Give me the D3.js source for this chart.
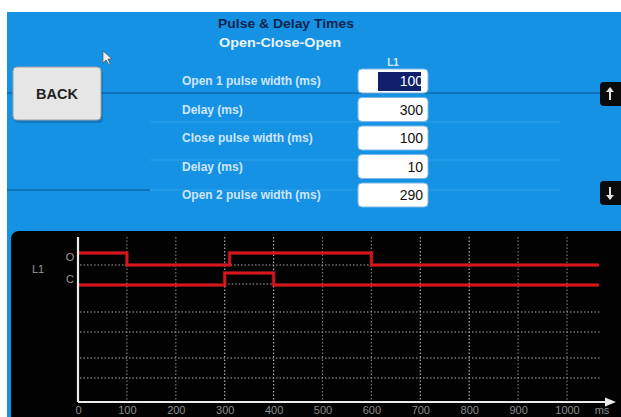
<!DOCTYPE html>
<html>
<head>
<meta charset="utf-8">
<script src="https://cdn.jsdelivr.net/npm/d3@7"></script>
<style>
  body { margin: 0; background: #fff; }
  svg { display: block; font-family: "Liberation Sans", Arial, sans-serif; }
</style>
</head>
<body>
<div id="vis"></div>
<script>
// settings rows shown in the blue panel
var rowLabels = ["Open 1 pulse width (ms)", "Delay (ms)", "Close pulse width (ms)", "Delay (ms)", "Open 2 pulse width (ms)"];
var rowValues = [100, 300, 100, 10, 290];

// time axis
var tickValues = [0, 100, 200, 300, 400, 500, 600, 700, 800, 900, 1000];

// trace edges: [time ms, state]
var openTrace = [[0, 1], [100, 0], [310, 1], [600, 0], [1065, 0]];
var closeTrace = [[0, 0], [300, 1], [400, 0], [1065, 0]];

// dotted baselines (unused channels)
var gridRows = ["g1", "g2", "g3", "g4"];

var width = 621, height = 417;

var svg = d3.select("#vis").append("svg")
    .attr("width", width)
    .attr("height", height);

// blue panel
svg.append("rect")
    .attr("x", 7).attr("y", 12)
    .attr("width", width - 7).attr("height", height - 12)
    .attr("fill", "#1692e4");

// faint separator lines
var sep = [
    {y: 93, x1: 7, x2: 602, c: "#0b5f9c", o: 0.8},
    {y: 122, x1: 150, x2: 560, c: "#3aa6ee", o: 0.5},
    {y: 160, x1: 150, x2: 560, c: "#3aa6ee", o: 0.5},
    {y: 190, x1: 7, x2: 150, c: "#0b5f9c", o: 0.8},
    {y: 190, x1: 150, x2: 560, c: "#3aa6ee", o: 0.5}
];
svg.selectAll(".sep").data(sep).enter().append("line")
    .attr("class", "sep")
    .attr("x1", function(d) { return d.x1; })
    .attr("x2", function(d) { return d.x2; })
    .attr("y1", function(d) { return d.y; })
    .attr("y2", function(d) { return d.y; })
    .attr("stroke", function(d) { return d.c; })
    .attr("stroke-opacity", function(d) { return d.o; })
    .attr("stroke-width", 1.5);

// titles
svg.append("text")
    .attr("x", 218).attr("y", 28)
    .attr("font-size", 12.5).attr("font-weight", "bold")
    .attr("textLength", 136).attr("lengthAdjust", "spacingAndGlyphs")
    .attr("fill", "#0d2550")
    .text("Pulse & Delay Times");
svg.append("text")
    .attr("x", 219).attr("y", 47)
    .attr("font-size", 12.5).attr("font-weight", "bold")
    .attr("textLength", 122).attr("lengthAdjust", "spacingAndGlyphs")
    .attr("fill", "#e9f5ff")
    .text("Open-Close-Open");
svg.append("text")
    .attr("x", 393).attr("y", 66)
    .attr("text-anchor", "middle")
    .attr("font-size", 10).attr("font-weight", "bold")
    .attr("fill", "#d6ebff")
    .text("L1");

// BACK button
svg.append("rect")
    .attr("x", 15).attr("y", 70)
    .attr("width", 88).attr("height", 53).attr("rx", 4)
    .attr("fill", "#0b5f9c").attr("opacity", 0.5);
svg.append("rect")
    .attr("x", 13).attr("y", 67)
    .attr("width", 88).attr("height", 53).attr("rx", 4)
    .attr("fill", "#e6e6e6").attr("stroke", "#a0a0a0");
svg.append("text")
    .attr("x", 57).attr("y", 99)
    .attr("text-anchor", "middle")
    .attr("font-size", 14.5).attr("font-weight", "bold")
    .attr("fill", "#222")
    .text("BACK");

// mouse cursor
svg.append("path")
    .attr("d", "M103,51 L103,63 L106,60 L109,65 L110,64 L108,59 L112,59 Z")
    .attr("fill", "#eee").attr("stroke", "#444").attr("stroke-width", 0.6);

// rows
var rowY = d3.scalePoint()
    .domain(d3.range(rowLabels.length))
    .range([81, 195]);

var rows = svg.selectAll(".row")
    .data(rowLabels)
    .enter()
    .append("g")
    .attr("class", "row")
    .attr("transform", function(d, i) { return "translate(0," + rowY(i) + ")"; });

rows.append("text")
    .attr("x", 182).attr("y", 4)
    .attr("font-size", 12).attr("font-weight", "bold")
    .attr("fill", "#cfe6ff")
    .text(function(d) { return d; });

rows.append("rect")
    .attr("x", 358).attr("y", -12)
    .attr("width", 70).attr("height", 24).attr("rx", 4)
    .attr("fill", "#fff").attr("stroke", "#7fb8e6");

rows.filter(function(d, i) { return i === 0; })
    .append("rect")
    .attr("x", 378).attr("y", -9)
    .attr("width", 43).attr("height", 19)
    .attr("fill", "#10206a");

rows.append("text")
    .attr("x", 423).attr("y", 5)
    .attr("text-anchor", "end")
    .attr("font-size", 14)
    .attr("fill", function(d, i) { return i === 0 ? "#fff" : "#111"; })
    .text(function(d, i) { return rowValues[i]; });

// scroll buttons
[{y: 82, up: true}, {y: 181, up: false}].forEach(function(b) {
    svg.append("rect")
        .attr("x", 600).attr("y", b.y)
        .attr("width", 26).attr("height", 24).attr("rx", 4)
        .attr("fill", "#0a0a0a");
    var top = b.y + 6, bot = b.y + 18;
    svg.append("line")
        .attr("x1", 610).attr("x2", 610)
        .attr("y1", top).attr("y2", bot)
        .attr("stroke", "#e0e0e0").attr("stroke-width", 2);
    svg.append("path")
        .attr("d", b.up
            ? "M606," + (top + 4) + " L610," + (top - 1) + " L614," + (top + 4) + " Z"
            : "M606," + (bot - 4) + " L610," + (bot + 1) + " L614," + (bot - 4) + " Z")
        .attr("fill", "#e0e0e0");
});

// chart panel
svg.append("rect")
    .attr("x", 11).attr("y", 231)
    .attr("width", width).attr("height", 200).attr("rx", 8)
    .attr("fill", "#020202");

var x = d3.scaleLinear()
    .domain([0, 1000])
    .range([78, 567]);

// vertical level positions
var y = d3.scaleOrdinal()
    .domain(["O1", "O0", "C1", "C0", "g1", "g2", "g3", "g4"])
    .range([253, 265, 273, 285, 312, 332, 358, 378]);

var chartTop = 237, axisY = 402;

// vertical dotted grid
svg.selectAll(".vgrid")
    .data(tickValues.slice(1))
    .enter().append("line")
    .attr("class", "vgrid")
    .attr("x1", function(d) { return x(d); })
    .attr("x2", function(d) { return x(d); })
    .attr("y1", chartTop).attr("y2", axisY)
    .attr("stroke", function(d) { return (d === 300 || d === 400 || d === 700 || d === 800) ? "#b0b0b0" : "#7a7a7a"; })
    .attr("stroke-width", 1.2)
    .attr("stroke-dasharray", "1.5,2");

// horizontal dotted grid
svg.selectAll(".hgrid")
    .data(gridRows)
    .enter().append("line")
    .attr("class", "hgrid")
    .attr("x1", x(0) + 2).attr("x2", 600)
    .attr("y1", function(d) { return y(d); })
    .attr("y2", function(d) { return y(d); })
    .attr("stroke", "#a8a8a8")
    .attr("stroke-width", 1.2)
    .attr("stroke-dasharray", "1.5,2");

// baselines under traces
svg.append("line")
    .attr("x1", x(0) + 2).attr("x2", x(1065))
    .attr("y1", y("O0")).attr("y2", y("O0"))
    .attr("stroke", "#a8a8a8").attr("stroke-width", 1.2)
    .attr("stroke-dasharray", "1.5,2");
svg.append("line")
    .attr("x1", x(300)).attr("x2", x(400))
    .attr("y1", y("C0") - 1).attr("y2", y("C0") - 1)
    .attr("stroke", "#a8a8a8").attr("stroke-width", 1.2)
    .attr("stroke-dasharray", "1.5,2");

// traces
var openLine = d3.line()
    .x(function(d) { return x(d[0]); })
    .y(function(d) { return y(d[1] ? "O1" : "O0"); })
    .curve(d3.curveStepAfter);
var closeLine = d3.line()
    .x(function(d) { return x(d[0]); })
    .y(function(d) { return y(d[1] ? "C1" : "C0"); })
    .curve(d3.curveStepAfter);

[[openTrace, openLine], [closeTrace, closeLine]].forEach(function(t) {
    svg.append("path")
        .datum(t[0])
        .attr("d", t[1])
        .attr("fill", "none")
        .attr("stroke", "#ff3030")
        .attr("stroke-opacity", 0.35)
        .attr("stroke-width", 4);
    svg.append("path")
        .datum(t[0])
        .attr("d", t[1])
        .attr("fill", "none")
        .attr("stroke", "#d8141c")
        .attr("stroke-width", 2.4);
});

// axes
var xAxis = d3.axisBottom(x)
    .tickValues(tickValues)
    .tickFormat(d3.format("d"))
    .tickSize(0)
    .tickPadding(4);

var gx = svg.append("g")
    .attr("class", "x axis")
    .attr("transform", "translate(0," + axisY + ")")
    .call(xAxis);
gx.select(".domain").remove();
gx.selectAll("text")
    .attr("font-size", 11)
    .attr("fill", "#8c8c8c");

svg.append("line")
    .attr("x1", x(0)).attr("x2", 608)
    .attr("y1", axisY).attr("y2", axisY)
    .attr("stroke", "#ececec").attr("stroke-width", 2.2);
svg.append("path")
    .attr("d", "M605,397.5 L616,402 L605,406.5 Z")
    .attr("fill", "#ececec");
svg.append("line")
    .attr("x1", x(0)).attr("x2", x(0))
    .attr("y1", chartTop).attr("y2", axisY)
    .attr("stroke", "#ececec").attr("stroke-width", 2.2);

svg.append("text")
    .attr("x", 602).attr("y", 414)
    .attr("text-anchor", "middle")
    .attr("font-size", 11).attr("fill", "#8c8c8c")
    .text("ms");

// channel labels
svg.append("text")
    .attr("x", 38).attr("y", 273)
    .attr("text-anchor", "middle")
    .attr("font-size", 11).attr("fill", "#9a9a9a")
    .text("L1");
svg.append("text")
    .attr("x", 70).attr("y", 261)
    .attr("text-anchor", "middle")
    .attr("font-size", 11).attr("fill", "#9a9a9a")
    .text("O");
svg.append("text")
    .attr("x", 70).attr("y", 283)
    .attr("text-anchor", "middle")
    .attr("font-size", 11).attr("fill", "#9a9a9a")
    .text("C");
</script>
</body>
</html>
